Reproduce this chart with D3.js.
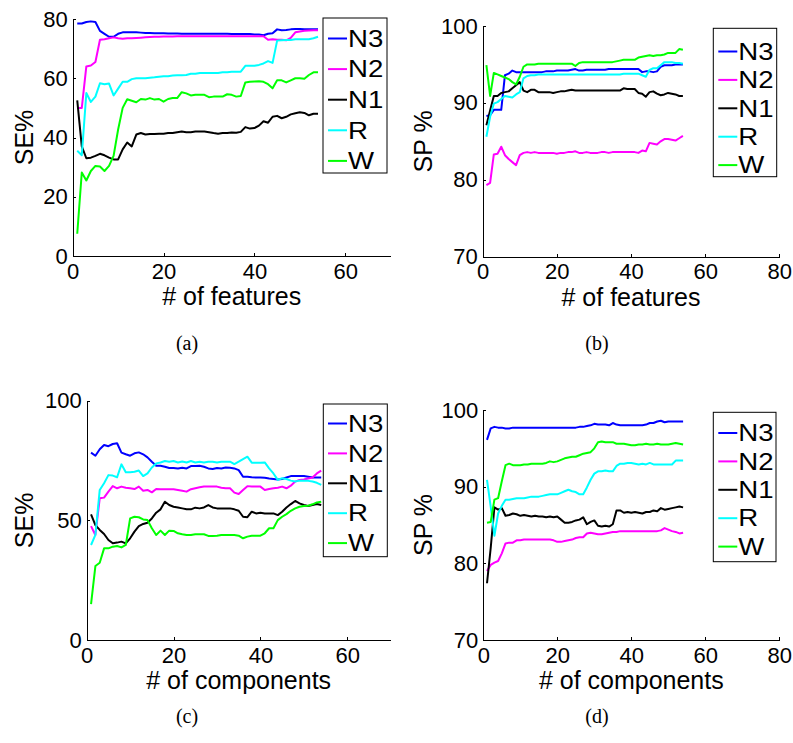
<!DOCTYPE html>
<html lang="en">

<head>
    <meta charset="UTF-8">
    <title>SE / SP vs number of features and components</title>
    <script src="https://cdnjs.cloudflare.com/ajax/libs/d3/7.8.5/d3.min.js"></script>
    <style>
        body {
            margin: 0;
            background: white;
        }

        .axis path,
        .axis line {
            stroke: #000;
            stroke-width: 1px;
            shape-rendering: crispEdges;
        }

        .axis text {
            font-family: "Liberation Sans", Arial, sans-serif;
            font-size: 22px;
            fill: #000;
        }

        .axis-label {
            font-family: "Liberation Sans", Arial, sans-serif;
            font-size: 25px;
            fill: #000;
        }

        .legend-text {
            font-family: "Liberation Sans", Arial, sans-serif;
            font-size: 23px;
            fill: #000;
        }

        .caption {
            font-family: "Liberation Serif", "DejaVu Serif", serif;
            font-size: 20px;
            fill: #000;
        }

        .series-line {
            fill: none;
            stroke-width: 2px;
            stroke-linejoin: round;
        }
    </style>
</head>

<body>
    <div class="figure"></div>
    <script>
        // legend entries, same order in every panel
        var seriesNames = ["N3", "N2", "N1", "R", "W"];
        var seriesColors = ["#0000ff", "#ff00ff", "#000000", "#00ffff", "#00ff00"];

        // (a) SE% vs # of features, x = 1..54
        var seFeatN3 = [78.5, 78.5, 79, 79.2, 79, 76, 75, 74, 74, 75,
            75.5, 75.5, 75.5, 75.5, 75.4, 75.3, 75.3, 75.2, 75.2, 75.2,
            75.1, 75.1, 75.1, 75, 75, 75, 75, 75, 75, 75,
            75, 75, 75, 75, 74.9, 74.9, 74.9, 74.9, 74.9, 74.8,
            74.8, 74.5, 75, 75.2, 76.5, 76.2, 76.3, 76.5, 76.6, 76.6,
            76.5, 76.5, 76.5, 76.5];
        var seFeatN2 = [50, 50, 64, 64.3, 65.5, 73, 73.2, 73.5, 73.8, 73.5,
            73.3, 73.5, 73.5, 73.6, 73.7, 73.8, 73.9, 74, 74, 74.1,
            74.1, 74.1, 74.2, 74.2, 74.2, 74.2, 74.2, 74.2, 74.2, 74.2,
            74.2, 74.2, 74.2, 74.2, 74.2, 74.2, 74.2, 74.2, 74.2, 74.2,
            74.2, 74.2, 73, 73.2, 73, 73, 72.8, 73.6, 75.5, 75.8,
            76, 76.1, 76.2, 76.2];
        var seFeatN1 = [52.5, 37, 33, 33.2, 33.8, 34.5, 34, 33.2, 32.6, 32.6,
            36, 38.3, 37, 41, 41.5, 41, 41.2, 41.2, 41.3, 41.3,
            41.5, 41.5, 41.8, 42, 41.8, 41.8, 42, 42, 42, 41.8,
            41.5, 41.3, 41.5, 41.5, 41.7, 41.6, 41.9, 43.5, 43, 43.2,
            44, 45.5, 45, 47, 47.3, 46.5, 47, 47.8, 48.2, 48.5,
            48.3, 47.5, 48, 48];
        var seFeatR = [35.5, 34, 55, 52, 53.8, 58.3, 58, 58.2, 54.2, 56.5,
            58.8, 58.8, 59.7, 60, 60, 60, 60.2, 60.3, 60.5, 60.7,
            60.7, 60.9, 61, 61, 61.1, 61.5, 61.5, 61.8, 61.8, 61.8,
            61.8, 61.8, 62, 62, 62.2, 62.2, 62.2, 64.2, 64.2, 64.2,
            64.5, 65, 65.8, 65.2, 72.7, 72.8, 72.9, 72.9, 73.2, 73.2,
            73.2, 73.2, 73.5, 74];
        var seFeatW = [7.5, 28.2, 25.5, 28.7, 30.4, 30.2, 28.7, 30.4, 33.8, 42.7,
            50, 52.9, 52.4, 51.9, 53, 52.8, 53.3, 52.8, 53, 52.1,
            53, 53.3, 53.3, 55.3, 54.9, 54.2, 54.4, 54.4, 54.4, 53.6,
            53.8, 53.8, 53.8, 54.6, 54.4, 53.8, 54, 58.6, 58.8, 58.9,
            59, 58.8, 58, 56.6, 59.3, 59.3, 58.6, 59.3, 60, 60,
            59.8, 61.1, 62, 62];

        // (b) SP % vs # of features
        var spFeatN3 = [88.3, 88.4, 89.1, 89.1, 89.1, 93.6, 93.8, 94.2, 94, 94,
            94, 94, 94, 94, 94, 94, 94.1, 94.1, 94.1, 94.2,
            94.2, 94.2, 94.2, 94.3, 94.4, 94.2, 94.2, 94.3, 94.3, 94.3,
            94.3, 94.3, 94.3, 94.4, 94.4, 94.4, 94.4, 94.4, 94.4, 94.4,
            94.4, 94.4, 94, 94.1, 94.1, 94, 94.1, 94.7, 94.9, 94.9,
            94.9, 95, 95, 95];
        var spFeatN2 = [79.3, 79.6, 83.3, 83.4, 84.3, 83.2, 82.7, 82.3, 81.9, 83.2,
            83.5, 83.6, 83.5, 83.6, 83.5, 83.5, 83.5, 83.5, 83.5, 83.4,
            83.5, 83.5, 83.6, 83.6, 83.7, 83.5, 83.5, 83.6, 83.5, 83.5,
            83.5, 83.6, 83.6, 83.5, 83.6, 83.6, 83.6, 83.6, 83.6, 83.6,
            83.6, 83.5, 83.8, 83.7, 84.8, 84.7, 84.6, 85, 85.3, 85.3,
            85.2, 85.1, 85.4, 85.7];
        var spFeatN1 = [87.1, 89, 90.9, 90.9, 91.3, 91.4, 91.5, 91.9, 92.3, 92.7,
            91.6, 91.4, 91.7, 91.7, 91.4, 91.4, 91.4, 91.4, 91.3, 91.4,
            91.5, 91.5, 91.6, 91.7, 91.6, 91.6, 91.6, 91.6, 91.6, 91.6,
            91.6, 91.6, 91.6, 91.6, 91.6, 91.6, 91.6, 91.9, 91.8, 91.8,
            91.8, 91.3, 91.2, 90.8, 91.4, 91.5, 91.2, 91, 91.1, 91.3,
            91.2, 91.1, 90.9, 90.9];
        var spFeatR = [85.6, 88.2, 89.9, 90.1, 90.5, 90.9, 90.8, 90.7, 91.1, 91.4,
            93.2, 93.5, 93.6, 93.6, 93.7, 93.7, 93.7, 93.7, 93.7, 93.7,
            93.7, 93.7, 93.7, 93.7, 93.7, 93.7, 93.7, 93.7, 93.7, 93.7,
            93.7, 93.7, 93.7, 93.7, 93.7, 93.7, 93.7, 93.8, 93.8, 93.8,
            93.8, 93.8, 93.6, 93.4, 94.3, 94.5, 94.5, 94.9, 95.3, 95.3,
            95.3, 95.2, 95.2, 95.1];
        var spFeatW = [94.9, 90.9, 93.9, 93.7, 93.5, 93.3, 93.1, 92.7, 92.4, 93.4,
            94.7, 95, 95, 95, 95.1, 95.1, 95.1, 95.1, 95.1, 95.1,
            95.1, 95.1, 95.1, 95.1, 94.8, 95.2, 95.3, 95.3, 95.3, 95.3,
            95.3, 95.3, 95.3, 95.3, 95.3, 95.4, 95.5, 95.6, 95.6, 95.6,
            95.6, 95.9, 96, 96.1, 96.2, 96.1, 96.2, 96.2, 96.3, 96.5,
            96.5, 96.5, 97, 96.9];

        // (c) SE% vs # of components
        var seCompN3 = [78.3, 77, 79.7, 81.5, 81, 81.9, 82.2, 78.3, 77.6, 77,
            78, 78.4, 77.6, 76.3, 74.5, 72.8, 72.8, 72.4, 71.9, 71.9,
            71.7, 72, 71.7, 72.7, 72.7, 72.8, 72.4, 71.7, 71.5, 71.9,
            71.7, 72.1, 72, 71.7, 71, 68.2, 68.2, 68, 67.9, 67.9,
            67.8, 67.5, 67.3, 67.1, 67.3, 67.9, 68.5, 68.5, 68.5, 68.5,
            68.2, 67.9, 67.9, 67.9];
        var seCompN2 = [47.6, 43.9, 59.2, 59.5, 62, 64.3, 63.4, 64.1, 63.6, 63.4,
            63.1, 64.1, 62.4, 62.7, 61.7, 63.1, 63, 63, 63, 63,
            62.7, 62.4, 62, 63, 63.4, 63.8, 64.1, 64.1, 64.1, 64.1,
            63.6, 63.4, 63.4, 61.6, 61, 62.7, 64.3, 64.1, 64.1, 64.1,
            62.7, 63.1, 63.4, 63.6, 64.1, 63.4, 64.5, 66.2, 66.9, 67.1,
            67.5, 67.9, 69.6, 70.8];
        var seCompN1 = [52.5, 48, 46, 44.3, 41.8, 40.4, 40.7, 41.1, 40.4, 42.5,
            45.3, 47.6, 48.5, 49, 50.8, 53.2, 54.6, 57.8, 56.4, 55.7,
            55.4, 55, 54.6, 54.6, 55.3, 55, 55.4, 56.4, 55.4, 55,
            55, 55, 55, 54.6, 54, 51.5, 51.3, 53.6, 52.9, 53.2,
            52.9, 52.9, 52.9, 52.2, 53.6, 55.4, 56.8, 58.1, 57.1, 56.4,
            56, 56.4, 56.8, 56.4];
        var seCompR = [39.7, 43.9, 62.7, 65.5, 68.9, 68.7, 68, 73.4, 70.1, 70.1,
            70.3, 70.8, 68.5, 69.6, 72.1, 73.8, 74.2, 74.8, 74.5, 74.8,
            74.2, 74.6, 74.2, 74.8, 74.2, 74.5, 74.2, 74.5, 74.5, 74.2,
            74.5, 74.5, 74.5, 73.5, 74.5, 75.6, 76.6, 74.1, 74.1, 74.1,
            74.2, 71.7, 69.6, 66.9, 67.6, 67.3, 66.6, 66.2, 66.6, 66.5,
            66.5, 66.2, 65.7, 64.8];
        var seCompW = [15, 30.9, 32.3, 38.3, 38.3, 39, 39.3, 38.7, 39.7, 50.8,
            51.5, 51.3, 50.4, 50.1, 46.7, 43.9, 45.7, 43.9, 45.7, 45.6,
            44.6, 44.2, 43.9, 43.9, 44.2, 44.2, 44.2, 43.5, 43.5, 43.6,
            43.9, 43.9, 43.9, 43.9, 43.6, 42.5, 43.2, 43.6, 43.6, 43.6,
            44.6, 46.7, 46.7, 50.1, 51.5, 52.6, 54, 55, 55.7, 56,
            56.1, 56.7, 57.5, 57.8];

        // (d) SP % vs # of components
        var spCompN3 = [96.1, 97.6, 97.8, 97.7, 97.7, 97.6, 97.6, 97.7, 97.7, 97.7,
            97.7, 97.7, 97.7, 97.7, 97.7, 97.7, 97.7, 97.7, 97.7, 97.7,
            97.7, 97.7, 97.7, 97.7, 97.7, 97.8, 97.8, 97.9, 98, 98.2,
            98.1, 98.1, 98.1, 98, 98.3, 98.1, 98, 98, 98, 98,
            98, 98, 98, 98.1, 98.3, 98.3, 98.5, 98.6, 98.4, 98.5,
            98.5, 98.5, 98.5, 98.5];
        var spCompN2 = [79, 79.8, 80.1, 80.3, 81.3, 82.6, 82.7, 82.7, 83, 83,
            83.1, 83.1, 83.1, 83.1, 83.1, 83.1, 83.1, 83.1, 83, 82.8,
            82.8, 82.9, 83, 83.1, 83.3, 83.4, 83.4, 83.9, 84, 83.9,
            83.8, 83.8, 83.9, 84, 84.1, 84.1, 84.2, 84.2, 84.2, 84.2,
            84.2, 84.2, 84.2, 84.2, 84.2, 84.2, 84.2, 84.3, 84.6, 84.4,
            84.2, 84.1, 83.9, 84];
        var spCompN1 = [77.4, 82, 87.3, 87, 87.2, 86.2, 86.3, 86.5, 86.4, 86.2,
            86.3, 86.2, 86.1, 86.2, 86.1, 86.1, 86, 86.1, 86, 86.1,
            85.7, 85.3, 85.3, 85.4, 85.6, 85.7, 86, 85.1, 85.4, 85.6,
            84.9, 84.8, 84.9, 84.8, 85.1, 86.9, 86.9, 86.6, 86.7, 86.6,
            86.7, 86.6, 86.5, 86.7, 86.7, 86.9, 86.8, 87.2, 87, 87.1,
            87.2, 87.3, 87.4, 87.3];
        var spCompR = [90.9, 87.4, 83.6, 86.5, 87.5, 88.3, 88.3, 88.4, 88.5, 88.5,
            88.5, 88.6, 88.7, 88.7, 88.7, 88.8, 88.9, 89, 89, 89,
            89.2, 89.4, 89.6, 89.4, 89.3, 89, 89, 89.9, 90.9, 91.7,
            92, 92, 92.1, 92, 92, 92.7, 93, 93, 93.1, 93.1,
            93, 92.9, 93, 92.9, 93.1, 92.9, 92.9, 92.9, 92.9, 92.9,
            92.9, 93.4, 93.4, 93.4];
        var spCompW = [85.3, 85.4, 88.3, 88.5, 90.7, 92.8, 93, 92.8, 92.8, 92.8,
            92.9, 92.9, 93, 93, 93, 93, 93.1, 93.3, 93.2, 93.3,
            93.5, 93.7, 93.8, 93.9, 93.9, 94.1, 94.3, 94.4, 94.5, 95,
            95.8, 95.9, 95.8, 95.8, 95.8, 95.6, 95.6, 95.6, 95.5, 95.4,
            95.4, 95.5, 95.5, 95.6, 95.5, 95.5, 95.6, 95.5, 95.5, 95.5,
            95.6, 95.7, 95.6, 95.5];

        // tick labels
        var xTicks70 = [0, 20, 40, 60];
        var xTicks80 = [0, 20, 40, 60, 80];
        var yTicksSeFeat = [0, 20, 40, 60, 80];
        var yTicksSeComp = [0, 50, 100];
        var yTicksSp = [70, 80, 90, 100];

        var width = 793,
            height = 743;

        var svg = d3.select(".figure").append("svg")
            .attr("width", width)
            .attr("height", height)
            .style("background", "white");

        var panels = [{
            series: [seFeatN3, seFeatN2, seFeatN1, seFeatR, seFeatW],
            xDomain: [0, 70], xRange: [72.7, 390.7], xTicks: xTicks70,
            yDomain: [0, 80], yRange: [256, 19], yTicks: yTicksSeFeat,
            xLabel: "# of features", yLabel: "SE%", yLabelX: 33,
            legend: { x: 323, y: 18, w: 64, h: 155, row0: 38.5, step: 30.6, lx: 328 },
            caption: "(a)", capX: 187, capY: 350
        }, {
            series: [spFeatN3, spFeatN2, spFeatN1, spFeatR, spFeatW],
            xDomain: [0, 80], xRange: [482.7, 779.3], xTicks: xTicks80,
            yDomain: [70, 100], yRange: [256.7, 26], yTicks: yTicksSp,
            xLabel: "# of features", yLabel: "SP %", yLabelX: 432,
            legend: { x: 713.3, y: 28.3, w: 63.4, h: 148.4, row0: 51.5, step: 28.4, lx: 718.3 },
            caption: "(b)", capX: 597, capY: 350
        }, {
            series: [seCompN3, seCompN2, seCompN1, seCompR, seCompW],
            xDomain: [0, 70], xRange: [86.7, 390.7], xTicks: xTicks70,
            yDomain: [0, 100], yRange: [640, 400.7], yTicks: yTicksSeComp,
            xLabel: "# of components", yLabel: "SE%", yLabelX: 33,
            legend: { x: 323.3, y: 404, w: 64, h: 152.7, row0: 423.5, step: 29.9, lx: 328 },
            caption: "(c)", capX: 187, capY: 723
        }, {
            series: [spCompN3, spCompN2, spCompN1, spCompR, spCompW],
            xDomain: [0, 80], xRange: [483.3, 779.3], xTicks: xTicks80,
            yDomain: [70, 100], yRange: [640, 410], yTicks: yTicksSp,
            xLabel: "# of components", yLabel: "SP %", yLabelX: 432,
            legend: { x: 713.3, y: 412.3, w: 62.7, h: 149.4, row0: 433, step: 28.4, lx: 718.3 },
            caption: "(d)", capX: 597, capY: 723
        }];

        panels.forEach(drawPanel);

        function drawPanel(p) {
            var x = d3.scaleLinear().domain(p.xDomain).range(p.xRange);
            var y = d3.scaleLinear().domain(p.yDomain).range(p.yRange);
            var g = svg.append("g");

            g.append("g")
                .attr("class", "axis")
                .attr("transform", "translate(0," + p.yRange[0] + ")")
                .call(d3.axisBottom(x)
                    .tickValues(p.xTicks)
                    .tickFormat(d3.format("d"))
                    .tickSizeInner(-3)
                    .tickSizeOuter(0)
                    .tickPadding(7));

            g.append("g")
                .attr("class", "axis")
                .attr("transform", "translate(" + p.xRange[0] + ",0)")
                .call(d3.axisLeft(y)
                    .tickValues(p.yTicks)
                    .tickFormat(d3.format("d"))
                    .tickSizeInner(-3)
                    .tickSizeOuter(0)
                    .tickPadding(5));

            var line = d3.line()
                .x(function(d, i) {
                    return x(i + 1);
                })
                .y(function(d) {
                    return y(d);
                });

            g.selectAll(".series-line")
                .data(p.series)
                .enter()
                .append("path")
                .attr("class", "series-line")
                .attr("stroke", function(d, i) {
                    return seriesColors[i];
                })
                .attr("d", line);

            // axis labels
            g.append("text")
                .attr("class", "axis-label")
                .attr("x", (p.xRange[0] + p.xRange[1]) / 2)
                .attr("y", p.yRange[0] + 49)
                .attr("text-anchor", "middle")
                .text(p.xLabel);

            g.append("text")
                .attr("class", "axis-label")
                .attr("transform", "translate(" + p.yLabelX + "," + (p.yRange[0] + p.yRange[1]) / 2 + ") rotate(-90)")
                .attr("text-anchor", "middle")
                .text(p.yLabel);

            // legend box
            var lg = p.legend;
            var leg = g.append("g");
            leg.append("rect")
                .attr("x", lg.x)
                .attr("y", lg.y)
                .attr("width", lg.w)
                .attr("height", lg.h)
                .attr("fill", "white")
                .attr("stroke", "#000")
                .attr("stroke-width", 1);

            var rows = leg.selectAll(".legend-row")
                .data(seriesNames)
                .enter()
                .append("g")
                .attr("class", "legend-row")
                .attr("transform", function(d, i) {
                    return "translate(0," + (lg.row0 + i * lg.step) + ")";
                });

            rows.append("line")
                .attr("x1", lg.lx)
                .attr("x2", lg.lx + 19)
                .attr("stroke", function(d, i) {
                    return seriesColors[i];
                })
                .attr("stroke-width", 2);

            // the legend lettering in the figure is set wide
            rows.append("text")
                .attr("class", "legend-text")
                .attr("transform", "translate(" + (lg.lx + 20) + ",0) scale(1.2,1)")
                .attr("dy", "0.36em")
                .text(function(d) {
                    return d;
                });

            g.append("text")
                .attr("class", "caption")
                .attr("x", p.capX)
                .attr("y", p.capY)
                .attr("text-anchor", "middle")
                .text(p.caption);
        }
    </script>
</body>

</html>
